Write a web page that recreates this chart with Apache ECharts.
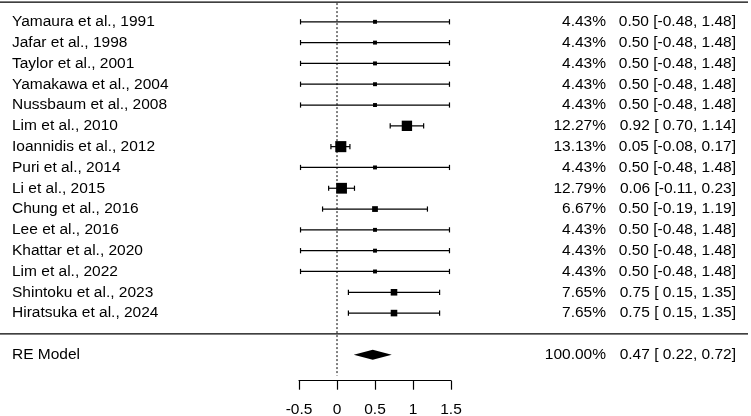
<!DOCTYPE html>
<html>
<head>
<meta charset="utf-8">
<script src="https://cdn.jsdelivr.net/npm/echarts@6/dist/echarts.min.js"></script>
<style>html,body{margin:0;padding:0;background:#fff}#c{width:751px;height:416px}</style>
</head>
<body>
<div id="c"></div>
<script>
var studies = ["Yamaura et al., 1991","Jafar et al., 1998","Taylor et al., 2001","Yamakawa et al., 2004","Nussbaum et al., 2008","Lim et al., 2010","Ioannidis et al., 2012","Puri et al., 2014","Li et al., 2015","Chung et al., 2016","Lee et al., 2016","Khattar et al., 2020","Lim et al., 2022","Shintoku et al., 2023","Hiratsuka et al., 2024"];
var weights = [4.43,4.43,4.43,4.43,4.43,12.27,13.13,4.43,12.79,6.67,4.43,4.43,4.43,7.65,7.65];
var estimates = [0.50,0.50,0.50,0.50,0.50,0.92,0.05,0.50,0.06,0.50,0.50,0.50,0.50,0.75,0.75];
var lowers = [-0.48,-0.48,-0.48,-0.48,-0.48,0.70,-0.08,-0.48,-0.11,-0.19,-0.48,-0.48,-0.48,0.15,0.15];
var uppers = [1.48,1.48,1.48,1.48,1.48,1.14,0.17,1.48,0.23,1.19,1.48,1.48,1.48,1.35,1.35];
var reModel = {label: "RE Model", weight: 100.00, est: 0.47, lower: 0.22, upper: 0.72};
var xTicks = [-0.5, 0, 0.5, 1, 1.5];

var FONT = '"Liberation Sans", Arial, sans-serif';
var FS = 15.5;
var LABEL_X = 12, PCT_X = 606, CI_X = 736;

function fmt(v){ var s = v.toFixed(2); return v >= 0 ? ' ' + s : s; }
function ciText(e, l, u){ return e.toFixed(2) + ' [' + fmt(l) + ', ' + u.toFixed(2) + ']'; }

var rows = studies.map(function(s, i){ return [estimates[i], i + 1, lowers[i], uppers[i], weights[i], i]; });

function txt(x, y, s, align){
  return {type:'text', style:{x:x, y:y, text:s, fill:'#000', font: FS + 'px ' + FONT, textAlign: align, textVerticalAlign:'middle'}};
}

var option = {
  animation: false,
  grid: {left: 299, right: 300, top: 1, bottom: 35.3, containLabel: false, outerBoundsMode: 'none'},
  xAxis: {
    type: 'value', min: xTicks[0], max: xTicks[xTicks.length - 1], interval: 0.5, position: 'bottom',
    axisLine: {show: true, onZero: false, lineStyle: {color: '#000', width: 1.2}},
    axisTick: {show: true, length: 9, lineStyle: {color: '#000', width: 1.2}},
    axisLabel: {color: '#000', fontSize: FS, fontFamily: FONT, margin: 21,
      formatter: function(v){ return String(v); }},
    splitLine: {show: false}
  },
  yAxis: {type: 'value', min: 0, max: 18.25, inverse: true, show: false},
  series: [
    {
      type: 'custom', clip: false,
      data: [[0, 0]],
      renderItem: function(params, api){
        var top = api.coord([0, 0.1]);
        var bot = api.coord([0, 18.0]);
        var l0 = api.coord([0, 0.05]);
        var l16 = api.coord([0, 16]);
        return {type:'group', children:[
          {type:'line', shape:{x1:top[0], y1:top[1], x2:bot[0], y2:bot[1]}, style:{stroke:'#000', lineWidth:1, lineDash:[2,2]}},
          {type:'line', shape:{x1:0, y1:l0[1], x2:748, y2:l0[1]}, style:{stroke:'#000', lineWidth:1.3}},
          {type:'line', shape:{x1:0, y1:l16[1], x2:748, y2:l16[1]}, style:{stroke:'#000', lineWidth:1.3}}
        ]};
      }
    },
    {
      type: 'custom', clip: false,
      data: rows,
      renderItem: function(params, api){
        var e = api.value(0), r = api.value(1), lo = api.value(2), up = api.value(3), w = api.value(4);
        var i = api.value(5);
        var pe = api.coord([e, r]), pl = api.coord([lo, r]), pu = api.coord([up, r]);
        var y = pe[1];
        var s = 0.82 * w + 0.3;
        var cap = 2.6;
        return {type:'group', children:[
          {type:'line', shape:{x1:pl[0], y1:y, x2:pu[0], y2:y}, style:{stroke:'#000', lineWidth:1.2}},
          {type:'line', shape:{x1:pl[0], y1:y-cap, x2:pl[0], y2:y+cap}, style:{stroke:'#000', lineWidth:1.2}},
          {type:'line', shape:{x1:pu[0], y1:y-cap, x2:pu[0], y2:y+cap}, style:{stroke:'#000', lineWidth:1.2}},
          {type:'rect', shape:{x:pe[0]-s/2, y:y-s/2, width:s, height:s}, style:{fill:'#000'}},
          txt(LABEL_X, y, studies[i], 'left'),
          txt(PCT_X, y, weights[i].toFixed(2) + '%', 'right'),
          txt(CI_X, y, ciText(estimates[i], lowers[i], uppers[i]), 'right')
        ]};
      }
    },
    {
      type: 'custom', clip: false,
      data: [[reModel.est, 17, reModel.lower, reModel.upper]],
      renderItem: function(params, api){
        var e = api.coord([api.value(0), api.value(1)]);
        var l = api.coord([api.value(2), api.value(1)]);
        var u = api.coord([api.value(3), api.value(1)]);
        var y = e[1], h = 5;
        return {type:'group', children:[
          {type:'polygon', shape:{points:[[l[0], y],[e[0], y-h],[u[0], y],[e[0], y+h]]}, style:{fill:'#000'}},
          txt(LABEL_X, y, reModel.label, 'left'),
          txt(PCT_X, y, reModel.weight.toFixed(2) + '%', 'right'),
          txt(CI_X, y, ciText(reModel.est, reModel.lower, reModel.upper), 'right')
        ]};
      }
    }
  ]
};
var chart = echarts.init(document.getElementById('c'), null, {renderer:'canvas'});
chart.setOption(option);
</script>
</body>
</html>
